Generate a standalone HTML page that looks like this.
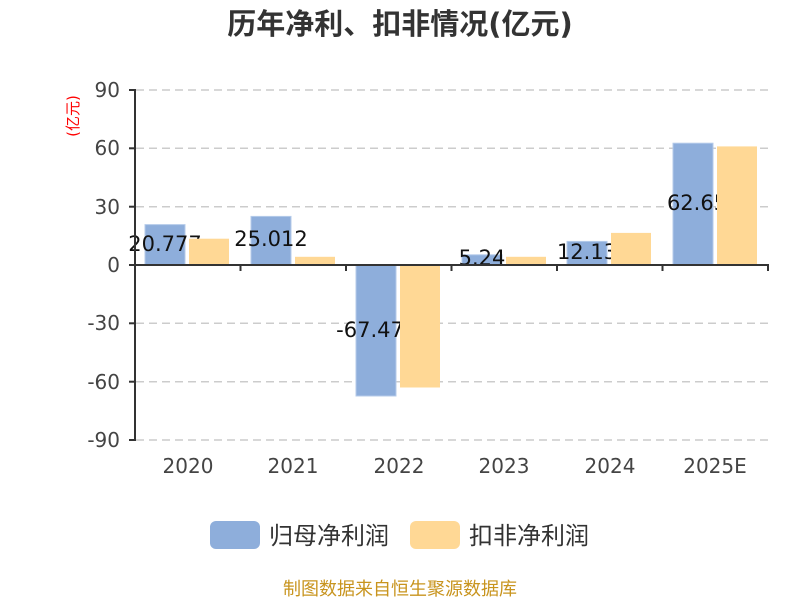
<!DOCTYPE html>
<html><head><meta charset="utf-8"><style>body{margin:0;background:#fff}svg{display:block}text{font-family:"DejaVu Sans","Noto Sans CJK SC",sans-serif}</style></head><body>
<svg width="800" height="600" viewBox="0 0 800 600">
<text x="400" y="34" text-anchor="middle" font-size="29" font-weight="bold" fill="#333" font-family="Noto Sans CJK SC, sans-serif">历年净利、扣非情况(亿元)</text>
<text transform="translate(78,116) rotate(-90)" text-anchor="middle" font-size="15" fill="#f00">(亿元)</text>
<g stroke="#ccc" stroke-dasharray="8,5" stroke-width="1.5">
<line x1="136" y1="90" x2="768" y2="90"/><line x1="136" y1="148.3" x2="768" y2="148.3"/><line x1="136" y1="206.7" x2="768" y2="206.7"/>
<line x1="136" y1="323.3" x2="768" y2="323.3"/><line x1="136" y1="381.7" x2="768" y2="381.7"/><line x1="136" y1="440" x2="768" y2="440"/>
</g>
<g font-size="20" fill="#444" text-anchor="end">
<text x="120" y="97">90</text><text x="120" y="155">60</text><text x="120" y="214">30</text><text x="120" y="272">0</text>
<text x="120" y="330">-30</text><text x="120" y="389">-60</text><text x="120" y="447">-90</text>
</g>
<g fill="#8eaedb" stroke="#b5cbea" stroke-width="1">
<rect x="145" y="224.6" width="40" height="40.4"/>
<rect x="251" y="216.4" width="40" height="48.6"/>
<rect x="356" y="265" width="40" height="131"/>
<rect x="462" y="254.8" width="40" height="10.2"/>
<rect x="567" y="241.4" width="40" height="23.6"/>
<rect x="673" y="143.2" width="40" height="121.8"/>
</g>
<g font-size="21" fill="#111" text-anchor="middle">
<text x="165" y="251">20.777</text><text x="271" y="246">25.012</text><text x="370" y="337">-67.47</text>
<text x="482" y="265">5.24</text><text x="587" y="259">12.13</text><text x="697" y="210">62.65</text>
</g>
<g fill="#ffd895">
<rect x="189" y="238.7" width="40" height="26.3"/>
<rect x="295" y="256.8" width="40" height="8.2"/>
<rect x="400" y="265" width="40" height="122.5"/>
<rect x="506" y="256.8" width="40" height="8.2"/>
<rect x="611" y="232.9" width="40" height="32.1"/>
<rect x="717" y="146.4" width="40" height="118.6"/>
</g>
<g stroke="#333" stroke-width="2">
<line x1="135" y1="89" x2="135" y2="441"/><line x1="134" y1="265" x2="769" y2="265"/>
<line x1="129" y1="90" x2="135" y2="90"/><line x1="129" y1="148.3" x2="135" y2="148.3"/><line x1="129" y1="206.7" x2="135" y2="206.7"/>
<line x1="129" y1="265" x2="135" y2="265"/><line x1="129" y1="323.3" x2="135" y2="323.3"/><line x1="129" y1="381.7" x2="135" y2="381.7"/><line x1="129" y1="440" x2="135" y2="440"/>
<line x1="240.5" y1="265" x2="240.5" y2="271"/><line x1="346" y1="265" x2="346" y2="271"/><line x1="451.5" y1="265" x2="451.5" y2="271"/>
<line x1="557" y1="265" x2="557" y2="271"/><line x1="662.5" y1="265" x2="662.5" y2="271"/><line x1="768" y1="265" x2="768" y2="271"/>
</g>
<g font-size="20" fill="#444" text-anchor="middle">
<text x="188" y="473">2020</text><text x="293" y="473">2021</text><text x="399" y="473">2022</text>
<text x="504" y="473">2023</text><text x="610" y="473">2024</text><text x="715" y="473">2025E</text>
</g>
<rect x="210" y="521" width="50" height="28" rx="6" fill="#8eaedb"/>
<text x="269" y="544" font-size="24" fill="#333">归母净利润</text>
<rect x="410" y="521" width="50" height="28" rx="6" fill="#ffd895"/>
<text x="469" y="544" font-size="24" fill="#333">扣非净利润</text>
<text x="400" y="595" text-anchor="middle" font-size="18" fill="#c8941e">制图数据来自恒生聚源数据库</text>
</svg>
</body></html>
